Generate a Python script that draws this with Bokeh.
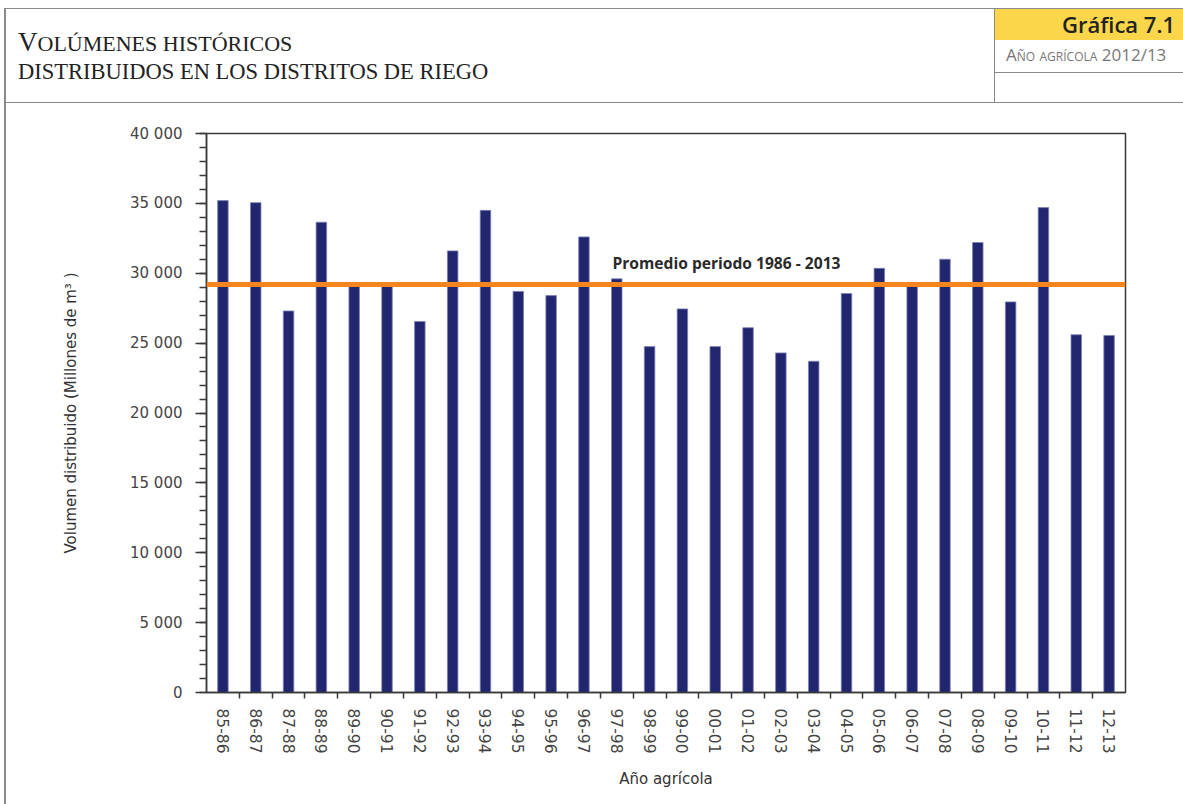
from bokeh.plotting import figure
from bokeh.models import FixedTicker, Span, Label, Div
from bokeh.layouts import column
from bokeh.embed import file_html
from bokeh.resources import INLINE
import numpy as np

# ---------------- data ----------------
categories = ["85-86", "86-87", "87-88", "88-89", "89-90", "90-91", "91-92",
              "92-93", "93-94", "94-95", "95-96", "96-97", "97-98", "98-99",
              "99-00", "00-01", "01-02", "02-03", "03-04", "04-05", "05-06",
              "06-07", "07-08", "08-09", "09-10", "10-11", "11-12", "12-13"]
volumes = [35200, 35050, 27300, 33650, 29100, 29100, 26550,
           31600, 34500, 28700, 28400, 32600, 29600, 24750,
           27450, 24750, 26100, 24300, 23700, 28550, 30350,
           29100, 31000, 32200, 27950, 34700, 25600, 25550]
average = 29200
average_label = "Promedio periodo 1986 - 2013"
y_ticks = [0, 5000, 10000, 15000, 20000, 25000, 30000, 35000, 40000]
y_tick_labels = ["0", "5 000", "10 000", "15 000", "20 000", "25 000",
                 "30 000", "35 000", "40 000"]
y_minor_ticks = list(range(0, 40001, 1000))
x_title = "Año agrícola"
y_title = "Volumen distribuido (Millones de m³ )"
title_lines = ["Volúmenes históricos", "distribuidos en los distritos de riego"]
badge = "Gráfica 7.1"
subtitle = "Año agrícola 2012/13"

# ---------------- header ----------------
GRAY = "#8a8a8a"
W = 1177
t1_first, t1_rest = title_lines[0][0], title_lines[0][1:]
header_html = f"""
<div style="position:relative;width:{W}px;height:96px;overflow:visible;">
  <div style="position:absolute;left:0;top:0;width:{W}px;height:0;border-top:1.5px solid {GRAY};"></div>
  <div style="position:absolute;left:0;top:94px;width:{W}px;height:0;border-top:1.5px solid {GRAY};"></div>
  <div style="position:absolute;left:988px;top:0;width:0;height:95px;border-left:1.5px solid {GRAY};"></div>
  <div style="position:absolute;left:989px;top:1px;width:{W-989}px;height:31px;background:#fcd64a;"></div>
  <div style="position:absolute;right:8px;top:2px;font-family:'Open Sans';font-weight:600;font-size:22px;line-height:28px;color:#222;white-space:nowrap;">{badge}</div>
  <div style="position:absolute;left:1000px;top:37px;font-family:'Open Sans';font-size:17px;line-height:20px;font-variant:small-caps;color:#777;white-space:nowrap;">{subtitle}</div>
  <div style="position:absolute;left:989px;top:64px;width:{W-989}px;height:0;border-top:1.5px solid {GRAY};"></div>
  <div style="position:absolute;left:12px;top:19px;font-family:'Liberation Serif';font-size:22px;line-height:30px;text-transform:uppercase;color:#222;white-space:nowrap;">
    <div style="height:30px;line-height:30px;"><span style="font-size:27px;line-height:30px;">{t1_first}</span>{t1_rest}</div>
    <div style="height:30px;line-height:30px;font-size:22.5px;">{title_lines[1]}</div>
  </div>
</div>
"""
header = Div(text=header_html, width=W, height=96, margin=0)

# ---------------- chart ----------------
n = len(categories)
xs = np.arange(n) + 0.5

p = figure(width=W, height=700, x_range=(0, n), y_range=(0, 40000),
           output_backend="svg", toolbar_location=None,
           min_border_left=200, min_border_right=58,
           min_border_top=29, min_border_bottom=112, margin=0)
p.xgrid.visible = False
p.ygrid.visible = False
p.outline_line_color = "#3a3a3a"
p.outline_line_width = 1.5
p.background_fill_color = "white"
p.border_fill_color = "white"

p.vbar(x=xs, top=volumes, width=0.32, fill_color="#22266f",
       line_color="#7d80b8", line_width=0.8)

p.add_layout(Span(location=average, dimension="width",
                  line_color="#f5861f", line_width=5))
p.add_layout(Label(x=12.37, y=30750, text=average_label,
                   text_font="Open Sans", text_font_style="bold",
                   text_font_size="15.6px", text_color="#2a2a2a",
                   text_baseline="alphabetic"))

AX = "#3a3a3a"
xa = p.xaxis[0]
xa.ticker = FixedTicker(ticks=[float(v) for v in xs],
                        minor_ticks=list(range(1, n)))
xa.major_label_overrides = {float(v): c for v, c in zip(xs, categories)}
xa.major_label_orientation = "vertical"
xa.major_tick_out = 0
xa.major_tick_in = 0
xa.minor_tick_out = 6
xa.minor_tick_in = 0
xa.major_label_standoff = 10
xa.major_label_text_font = "DejaVu Sans"
xa.major_label_text_font_size = "15.5px"
xa.major_label_text_color = "#444"
xa.axis_line_color = AX
xa.axis_line_width = 1.5
xa.minor_tick_line_color = AX
xa.minor_tick_line_width = 1.5
xa.axis_label = x_title
xa.axis_label_standoff = 13
xa.axis_label_text_font = "DejaVu Sans"
xa.axis_label_text_font_size = "15px"
xa.axis_label_text_font_style = "normal"
xa.axis_label_text_color = "#333"

ya = p.yaxis[0]
ya.ticker = FixedTicker(ticks=y_ticks, minor_ticks=y_minor_ticks)
ya.major_label_overrides = {t: l for t, l in zip(y_ticks, y_tick_labels)}
ya.major_tick_out = 11
ya.major_tick_in = 0
ya.minor_tick_out = 7
ya.minor_tick_in = 0
ya.major_label_standoff = 13
ya.major_label_text_font = "DejaVu Sans"
ya.major_label_text_font_size = "15px"
ya.major_label_text_color = "#444"
ya.axis_line_color = AX
ya.axis_line_width = 1.5
ya.major_tick_line_color = AX
ya.major_tick_line_width = 1.5
ya.minor_tick_line_color = AX
ya.minor_tick_line_width = 1.5
ya.axis_label = y_title
ya.axis_label_standoff = 47
ya.axis_label_text_font = "DejaVu Sans"
ya.axis_label_text_font_size = "15px"
ya.axis_label_text_font_style = "normal"
ya.axis_label_text_color = "#333"

layout = column(header, p, spacing=0, margin=(8, 0, 0, 4),
                styles={"border-left": f"2px solid {GRAY}"})

open("out.html", "w").write(file_html(layout, INLINE))
